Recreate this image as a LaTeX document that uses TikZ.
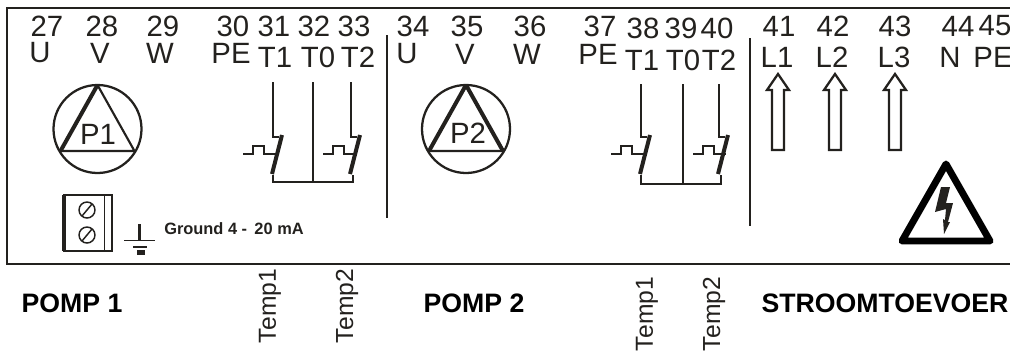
\documentclass[tikz,border=0pt]{standalone}
\usepackage{fontspec}
\setmainfont{Liberation Sans}
\definecolor{inkgray}{RGB}{35,33,30}
\tikzset{
    pin/.style={font=\fontsize{22}{24}\selectfont, text=inkgray, inner sep=0pt},
    pump/.style={line width=1.7pt, draw=inkgray},
    wire/.style={line width=1.3pt, draw=inkgray},
    blade/.style={line width=3pt, draw=inkgray},
    title/.style={font=\bfseries\fontsize{20}{22}\selectfont, text=black, inner sep=0pt},
    temp/.style={font=\fontsize{18.5}{20}\selectfont, text=inkgray, inner sep=0pt, rotate=90},
    feed/.style={line width=1.7pt, draw=inkgray, line join=miter}
}
% one pump symbol: circle with triangle and its name
\newcommand{\pumpsym}[3]{
    \node[pump, circle, minimum size=66pt, inner sep=0pt] (#3) at (#1,#2) {};
    \coordinate (#3a) at (#1,#2-44);
    \coordinate (#3b) at (#1-37,#2+22);
    \coordinate (#3c) at (#1+37,#2+22);
    \draw[line width=1.6pt, draw=inkgray] (#3b) -- (#3c) -- (#3a);
    \draw[line width=3pt, draw=inkgray] (#3b) -- (#3a);
}
% one pair of thermal switches
\newcommand{\tempsw}[7]{
    \draw[wire] (#1,#4) -- (#1,137) -- (#1+6,137);
    \draw[wire] (#2,#4) -- (#2,#5);
    \draw[wire] (#3,#4) -- (#3,137) -- (#3+6,137);
    \draw[blade] (#1+9,135) -- (#1-1,174);
    \draw[blade] (#3+9,135) -- (#3-1,174);
    \draw[wire] (#1,175) -- (#1,#5) -- (#7,#5) -- (#7,175);
    \draw[wire] (#1-30,154) -- (#1-20,154) -- (#1-20,146) -- (#1-9,146) -- (#1-9,154) -- (#1+3,154);
    \draw[wire] (#6,154) -- (#6+10,154) -- (#6+10,146) -- (#6+21,146) -- (#6+21,154) -- (#6+33,154);
}
\begin{document}
\begin{tikzpicture}[x=0.75pt,y=-0.75pt]
    \useasboundingbox (0,0) rectangle (1010,351);
    % frame, open on the right
    \draw[line width=1.4pt, draw=inkgray] (1010,8) -- (7,8) -- (7,264) -- (1010,264);

    % separators
    \draw[wire] (387,35) -- (387,218);
    \draw[wire] (750,38) -- (750,226);

    % terminal numbers and names
    \foreach \xa/\ya/\num/\xb/\yb/\lab in {
        47/26/27/40/53/U, 102/26/28/100/53/V, 163/26/29/160/53/W,
        233/26/30/231/53/PE, 274/26/31/275/57/T1, 314/26/32/318/57/T0, 354/26/33/358/57/T2,
        413/26/34/407/54/U, 467/26/35/465/54/V, 530/26/36/527/54/W,
        600/26/37/598/54/PE, 643/28/38/642/60/T1, 681/28/39/683/60/T0, 717/28/40/719/60/T2,
        779/26/41/777/57/L1, 833/26/42/832/57/L2, 895/26/43/894/57/L3,
        958/26/44/950/57/N, 995/26/45/993/57/PE}
    {
        \node[pin] (n\num) at (\xa,\ya) {\num};
        \node[pin] (l\num) at (\xb,\yb) {\lab};
    }

    % pumps
    \pumpsym{97.5}{129}{pumpa}
    \node[pin] (pa) at (98,134) {P1};
    \pumpsym{466}{129}{pumpb}
    \draw[line width=3pt, draw=inkgray] (pumpbc) -- (pumpba);
    \node[pin] (pb) at (468,133) {P2};

    % thermal switches
    \tempsw{273}{313}{351}{82}{182}{323}{353}
    \tempsw{641}{683}{719}{84}{184}{693}{721}

    % connector block
    \draw[line width=1.7pt, draw=inkgray] (64,195) rectangle (112,251);
    \draw[line width=3pt, draw=inkgray] (64,195) -- (64,251);
    \draw[line width=1.2pt, draw=inkgray] (104.5,195) -- (104.5,251);
    \foreach \yy in {210,235} {
        \draw[line width=1.1pt, draw=inkgray] (87,\yy) circle[radius=8];
        \draw[line width=1.1pt, draw=inkgray] (82,\yy+6) -- (92,\yy-6);
    }

    % ground
    \draw[line width=2.4pt, draw=inkgray] (139.5,224) -- (139.5,240);
    \draw[line width=1.4pt, draw=inkgray] (124,240.5) -- (155,240.5);
    \draw[line width=1.4pt, draw=inkgray] (133,247) -- (147,247);
    \fill[inkgray] (137,250) rectangle (145,255);
    \node[inner sep=0pt, font=\bfseries\fontsize{12.3}{14}\selectfont, text=inkgray, anchor=west] (gnd) at (164,229) {Ground 4 -\, 20 mA};

    % supply arrows
    \foreach \ax in {778,835,895} {
        \draw[feed] (\ax,74) -- (\ax+11,90) -- (\ax+6,90) -- (\ax+6,150) -- (\ax-6,150) -- (\ax-6,90) -- (\ax-11,90) -- cycle;
    }

    % warning sign
    \draw[line width=5.2pt, draw=black, line join=round] (946,164) -- (902,241) -- (990,241) -- cycle;
    \fill[inkgray] (941,187) -- (950,187) -- (946,203) -- (953,203) -- (948,222) -- (950,222) -- (944,234) -- (943,219) -- (945,220) -- (946,209) -- (935,212) -- cycle;

    % bottom titles
    \node[title] (ta) at (72,303) {POMP 1};
    \node[title] (tb) at (474,303) {POMP 2};
    \node[title] (tc) at (885,303) {STROOMTOEVOER};
    \node[temp] (ta1) at (270,306) {Temp1};
    \node[temp] (ta2) at (347,306) {Temp2};
    \node[temp] (tb1) at (647,314) {Temp1};
    \node[temp] (tb2) at (714,314) {Temp2};
\end{tikzpicture}
\end{document}
